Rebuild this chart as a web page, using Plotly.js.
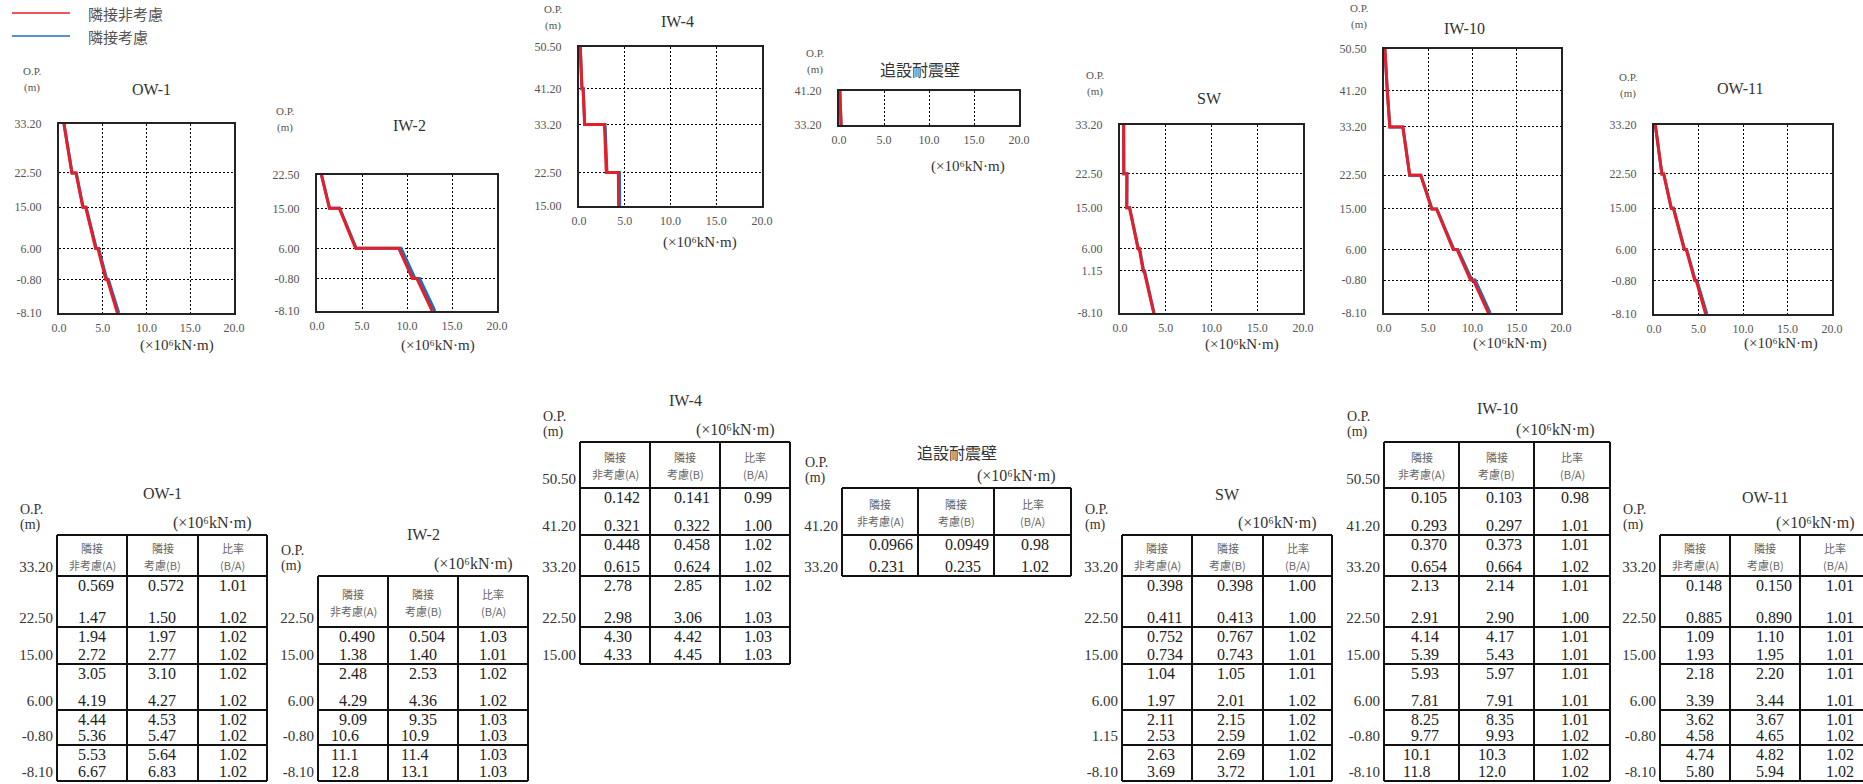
<!DOCTYPE html>
<html>
<head>
<meta charset="utf-8">
<script src="https://cdn.plot.ly/plotly-3.0.1.min.js"></script>
<style>
  html, body { margin: 0; padding: 0; background: #fff; }
  #chart { width: 1863px; height: 784px; }
</style>
</head>
<body>
<div id="chart"></div>
<script>
// Bending moment per wall, with / without adjacent building (x10^6 kN·m)

const WALLS = ['OW-1', 'IW-2', 'IW-4', '追設耐震壁', 'SW', 'IW-10', 'OW-11'];
const LEGEND_NAMES = ['隣接非考慮', '隣接考慮'];
const HEAD_L1 = ['隣接', '隣接', '比率'];
const HEAD_L2 = ['非考慮(A)', '考慮(B)', '(B/A)'];
const UNIT = '(×10⁶kN·m)';
const X_TICKS = [0, 5, 10, 15, 20];
const X_TICK_TEXT = ['0.0', '5.0', '10.0', '15.0', '20.0'];

// O.P. levels (m), top to bottom
const EL_OW1  = [33.2, 22.5, 15.0, 6.0, -0.8, -8.1];
const EL_IW2  = [22.5, 15.0, 6.0, -0.8, -8.1];
const EL_IW4  = [50.5, 41.2, 33.2, 22.5, 15.0];
const EL_ADD  = [41.2, 33.2];
const EL_SW   = [33.2, 22.5, 15.0, 6.0, 1.15, -8.1];
const EL_IW10 = [50.5, 41.2, 33.2, 22.5, 15.0, 6.0, -0.8, -8.1];
const EL_OW11 = [33.2, 22.5, 15.0, 6.0, -0.8, -8.1];

// values at top / bottom of each segment: (A) no adjacency, (B) adjacency, ratio B/A
const A_OW1 = [0.569, 1.47, 1.94, 2.72, 3.05, 4.19, 4.44, 5.36, 5.53, 6.67];
const B_OW1 = [0.572, 1.50, 1.97, 2.77, 3.10, 4.27, 4.53, 5.47, 5.64, 6.83];
const R_OW1 = [1.01, 1.02, 1.02, 1.02, 1.02, 1.02, 1.02, 1.02, 1.02, 1.02];

const A_IW2 = [0.490, 1.38, 2.48, 4.29, 9.09, 10.6, 11.1, 12.8];
const B_IW2 = [0.504, 1.40, 2.53, 4.36, 9.35, 10.9, 11.4, 13.1];
const R_IW2 = [1.03, 1.01, 1.02, 1.02, 1.03, 1.03, 1.03, 1.03];

const A_IW4 = [0.142, 0.321, 0.448, 0.615, 2.78, 2.98, 4.30, 4.33];
const B_IW4 = [0.141, 0.322, 0.458, 0.624, 2.85, 3.06, 4.42, 4.45];
const R_IW4 = [0.99, 1.00, 1.02, 1.02, 1.02, 1.03, 1.03, 1.03];

const A_ADD = [0.0966, 0.231];
const B_ADD = [0.0949, 0.235];
const R_ADD = [0.98, 1.02];

const A_SW = [0.398, 0.411, 0.752, 0.734, 1.04, 1.97, 2.11, 2.53, 2.63, 3.69];
const B_SW = [0.398, 0.413, 0.767, 0.743, 1.05, 2.01, 2.15, 2.59, 2.69, 3.72];
const R_SW = [1.00, 1.00, 1.02, 1.01, 1.01, 1.02, 1.02, 1.02, 1.02, 1.01];

const A_IW10 = [0.105, 0.293, 0.370, 0.654, 2.13, 2.91, 4.14, 5.39, 5.93, 7.81, 8.25, 9.77, 10.1, 11.8];
const B_IW10 = [0.103, 0.297, 0.373, 0.664, 2.14, 2.90, 4.17, 5.43, 5.97, 7.91, 8.35, 9.93, 10.3, 12.0];
const R_IW10 = [0.98, 1.01, 1.01, 1.02, 1.01, 1.00, 1.01, 1.01, 1.01, 1.01, 1.01, 1.02, 1.02, 1.02];

const A_OW11 = [0.148, 0.885, 1.09, 1.93, 2.18, 3.39, 3.62, 4.58, 4.74, 5.80];
const B_OW11 = [0.150, 0.890, 1.10, 1.95, 2.20, 3.44, 3.67, 4.65, 4.82, 5.94];
const R_OW11 = [1.01, 1.01, 1.01, 1.01, 1.01, 1.01, 1.01, 1.02, 1.02, 1.02];

const LEVELS = [EL_OW1, EL_IW2, EL_IW4, EL_ADD, EL_SW, EL_IW10, EL_OW11];
const VAL_A = [A_OW1, A_IW2, A_IW4, A_ADD, A_SW, A_IW10, A_OW11];
const VAL_B = [B_OW1, B_IW2, B_IW4, B_ADD, B_SW, B_IW10, B_OW11];
const VAL_R = [R_OW1, R_IW2, R_IW4, R_ADD, R_SW, R_IW10, R_OW11];

// ---- page geometry (pixels) ----
const W = 1863, H = 784;
const RED = '#e61e28', BLUE = '#1c6dc2';
const F_NUM = 'Liberation Serif, Noto Sans CJK JP, serif';
const F_JP = 'Noto Sans CJK JP, sans-serif';

// plot boxes: left, right, top, bottom
const PLOT_BOX = [
    [59, 234, 124, 313], [317, 497, 175, 311], [579, 762, 47, 206], [839, 1019, 91, 125],
    [1120, 1303, 125, 313], [1384, 1561, 49, 313], [1654, 1832, 125, 314],
];
// title / O.P. / x-title centres
const PLOT_TXT = [
    { t: [151, 89],  op: [32, 71],   xt: [177, 345] },
    { t: [409, 125], op: [285, 111], xt: [438, 345] },
    { t: [677, 21],  op: [553, 9],   xt: [700, 242] },
    { t: [920, 70],  op: [815, 53],  xt: [968, 166] },
    { t: [1209, 98], op: [1095, 75], xt: [1242, 344] },
    { t: [1464, 28], op: [1359, 8],  xt: [1510, 343] },
    { t: [1740, 88], op: [1628, 77], xt: [1781, 343] },
];
// table column edges, text pad, title offset
const TABLE_POS = [
    { cols: [57, 127, 198, 267],     pad: 21, tdy: 42 },
    { cols: [318, 388, 458, 528],    pad: 21, tdy: 42 },
    { cols: [580, 650, 720, 790],    pad: 24, tdy: 42 },
    { cols: [842, 918, 994, 1071],   pad: 27, tdy: 35 },
    { cols: [1122, 1192, 1263, 1332], pad: 25, tdy: 41 },
    { cols: [1384, 1459, 1534, 1610], pad: 27, tdy: 34 },
    { cols: [1660, 1730, 1800, 1870], pad: 26, tdy: 38 },
];
// row-boundary slots shared by all tables (slot 0 = header top above 50.50)
const SLOT_Y = [442, 488, 535, 576, 627, 664, 710, 745, 781];
const SLOT_LEVELS = [50.5, 41.2, 33.2, 22.5, 15.0, 6.0, -0.8, -8.1];

function slotOf(el) {
    let best = 0;
    SLOT_LEVELS.forEach((v, i) => { if (Math.abs(v - el) < Math.abs(SLOT_LEVELS[best] - el)) best = i; });
    return best + 1;
}
const ax = (n, a) => a + 'axis' + (n === 1 ? '' : n);
const ref = (n, a) => a + (n === 1 ? '' : n);
const fmtV = v => v.toPrecision(3);
const fmtR = v => v.toFixed(2);

const data = [];
const shapes = [];
const annotations = [];
const layout = {
    width: W, height: H,
    margin: { l: 0, r: 0, t: 0, b: 0 },
    paper_bgcolor: '#fff', plot_bgcolor: 'rgba(0,0,0,0)',
    showlegend: false,
    font: { family: F_NUM, color: '#333' },
};

function txt(x, y, text, size, opts) {
    annotations.push(Object.assign({
        xref: 'x8', yref: 'y8', x, y, text, showarrow: false,
        xanchor: 'center', yanchor: 'middle',
        font: { family: F_NUM, size, color: '#333' },
    }, opts || {}));
}

// ---- charts ----
WALLS.forEach((name, i) => {
    const n = i + 1;
    const [l, r, t, b] = PLOT_BOX[i];
    const el = LEVELS[i];
    const ys = [], xa = [], xb = [];
    for (let k = 0; k < el.length - 1; k++) {
        ys.push(el[k], el[k + 1]);
        xa.push(VAL_A[i][2 * k], VAL_A[i][2 * k + 1]);
        xb.push(VAL_B[i][2 * k], VAL_B[i][2 * k + 1]);
    }
    data.push({ x: xb, y: ys, type: 'scatter', mode: 'lines', name: LEGEND_NAMES[1],
        line: { color: BLUE, width: 3 }, xaxis: ref(n, 'x'), yaxis: ref(n, 'y'), hoverinfo: 'skip' });
    data.push({ x: xa, y: ys, type: 'scatter', mode: 'lines', name: LEGEND_NAMES[0],
        line: { color: RED, width: 3 }, xaxis: ref(n, 'x'), yaxis: ref(n, 'y'), hoverinfo: 'skip' });

    const common = {
        showgrid: true, griddash: '2px,2px', gridcolor: '#000', gridwidth: 1,
        showline: true, mirror: true, linecolor: '#222', linewidth: 2,
        zeroline: false, ticks: '', fixedrange: true,
        tickfont: { family: F_NUM, size: 12, color: '#555' },
    };
    layout[ax(n, 'x')] = Object.assign({}, common, {
        domain: [l / W, r / W], range: [0, 20], anchor: ref(n, 'y'),
        tickvals: X_TICKS, ticktext: X_TICK_TEXT, ticklabelstandoff: 3,
    });
    layout[ax(n, 'y')] = Object.assign({}, common, {
        domain: [1 - b / H, 1 - t / H], range: [el[el.length - 1], el[0]], anchor: ref(n, 'x'),
        tickvals: el, ticktext: el.map(v => v.toFixed(2)), ticklabelstandoff: 13,
    });

    const p = PLOT_TXT[i];
    txt(p.t[0], p.t[1], name, 16);
    txt(p.op[0], p.op[1], 'O.P.', 11, { font: { family: F_NUM, size: 11, color: '#555' } });
    txt(p.op[0], p.op[1] + 16, '(m)', 11, { font: { family: F_NUM, size: 11, color: '#555' } });
    txt(p.xt[0], p.xt[1], UNIT, 15);
});

// ---- legend ----
[[RED, 13], [BLUE, 36]].forEach(([c, y], k) => {
    shapes.push({ type: 'line', xref: 'x8', yref: 'y8', x0: 12, x1: 70, y0: y, y1: y,
        line: { color: c, width: 1.5 } });
    txt(86, y, LEGEND_NAMES[k], 15, { xanchor: 'left', font: { family: F_JP, size: 15, color: '#555' } });
});

// ---- tables ----
const cellX = [], cellY = [], cellT = [];
const elX = [], elY = [], elT = [];

WALLS.forEach((name, i) => {
    const el = LEVELS[i];
    const { cols, pad, tdy } = TABLE_POS[i];
    const ys = el.map(v => SLOT_Y[slotOf(v)]);
    const hTop = SLOT_Y[slotOf(el[0]) - 1];
    const bottom = ys[ys.length - 1];
    const line = { color: '#111', width: 2 };

    [hTop].concat(ys).forEach(y => shapes.push({ type: 'line', xref: 'x8', yref: 'y8',
        x0: cols[0], x1: cols[3], y0: y, y1: y, line }));
    cols.forEach(x => shapes.push({ type: 'line', xref: 'x8', yref: 'y8',
        x0: x, x1: x, y0: hTop, y1: bottom, line }));

    // header
    const hc = (hTop + ys[0]) / 2;
    for (let c = 0; c < 3; c++) {
        const cx = (cols[c] + cols[c + 1]) / 2;
        txt(cx, hc - 8, HEAD_L1[c], 11, { font: { family: F_JP, size: 11, color: '#666' } });
        txt(cx, hc + 9, HEAD_L2[c], 11, { font: { family: F_JP, size: 11, color: '#666' } });
    }
    txt((cols[0] + cols[3]) / 2, hTop - tdy, name, 16);
    txt(cols[0] - 39, hTop - 26, 'O.P.', 14, { xanchor: 'left' });
    txt(cols[0] - 39, hTop - 10, '(m)', 14, { xanchor: 'left' });
    txt(cols[3] - 13, hTop - 12, UNIT, 16, { xanchor: 'right' });

    // level labels
    el.forEach((v, j) => { elX.push(cols[0] - 4); elY.push(ys[j] - 8); elT.push(v.toFixed(2)); });

    // cell values
    const vals = [VAL_A[i], VAL_B[i], VAL_R[i]];
    for (let k = 0; k < el.length - 1; k++) {
        for (let c = 0; c < 3; c++) {
            const s0 = c < 2 ? fmtV(vals[c][2 * k]) : fmtR(vals[c][2 * k]);
            const s1 = c < 2 ? fmtV(vals[c][2 * k + 1]) : fmtR(vals[c][2 * k + 1]);
            [[s0, ys[k] + 11], [s1, ys[k + 1] - 8]].forEach(([s, y]) => {
                const shift = (s.split('.')[0].length - 1) * 8;
                cellX.push(cols[c] + pad - shift); cellY.push(y); cellT.push(s);
            });
        }
    }
});

data.push({ x: cellX, y: cellY, text: cellT, type: 'scatter', mode: 'text',
    textposition: 'middle right', textfont: { family: F_NUM, size: 16, color: '#222' },
    xaxis: 'x8', yaxis: 'y8', hoverinfo: 'skip', cliponaxis: false });
data.push({ x: elX, y: elY, text: elT, type: 'scatter', mode: 'text',
    textposition: 'middle left', textfont: { family: F_NUM, size: 15, color: '#333' },
    xaxis: 'x8', yaxis: 'y8', hoverinfo: 'skip', cliponaxis: false });

layout.xaxis8 = { domain: [0, 1], range: [0, W], visible: false, fixedrange: true, anchor: 'y8' };
layout.yaxis8 = { domain: [0, 1], range: [H, 0], visible: false, fixedrange: true, anchor: 'x8' };
layout.shapes = shapes;
layout.annotations = annotations;

Plotly.newPlot('chart', data, layout, { staticPlot: true, displayModeBar: false });
</script>
</body>
</html>
